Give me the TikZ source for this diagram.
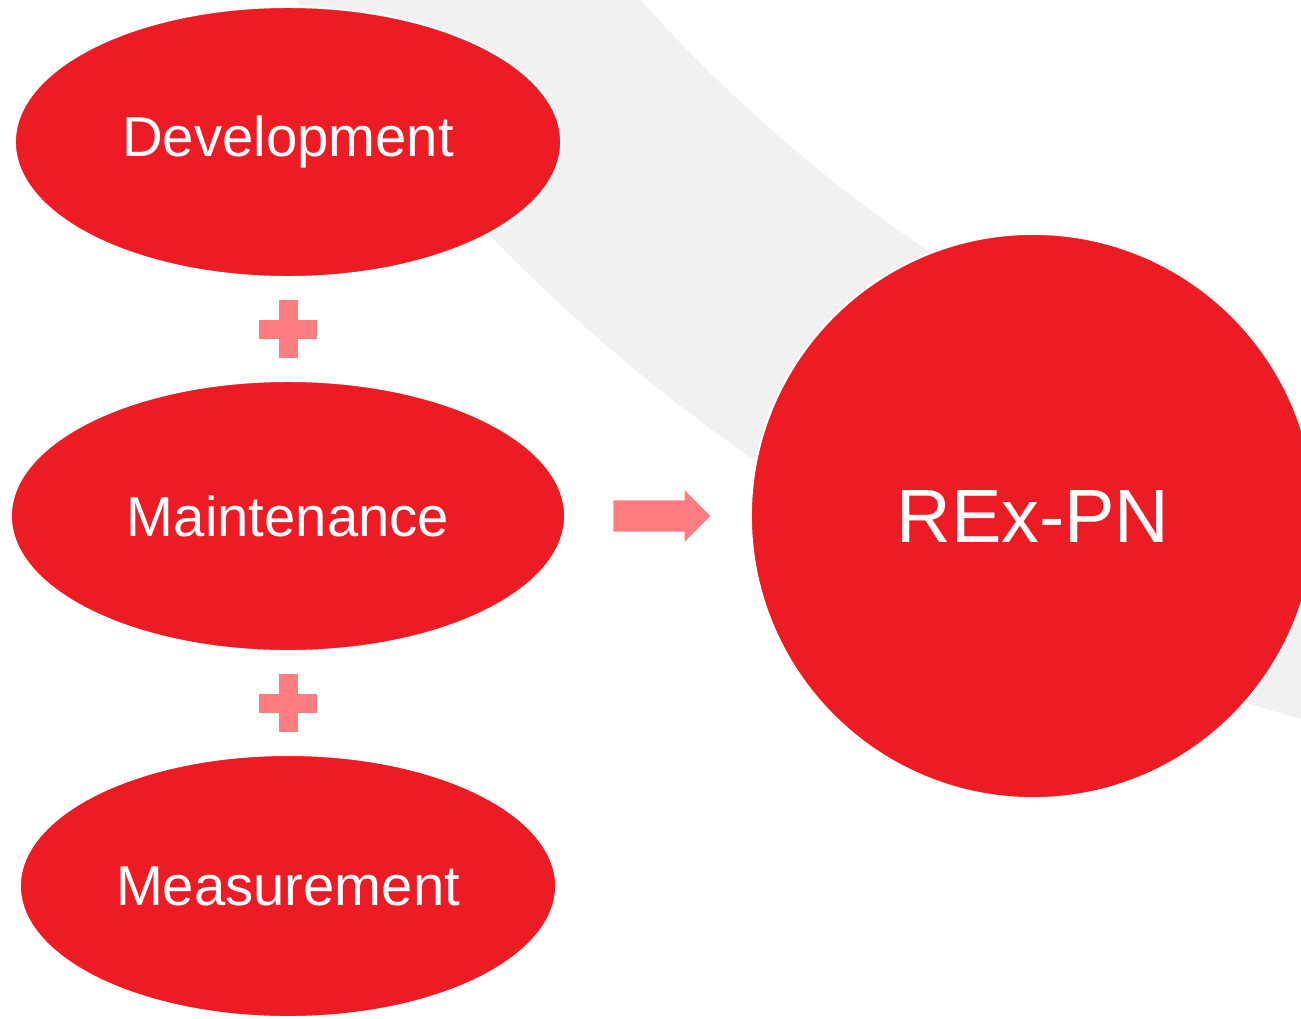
\documentclass[tikz,border=0pt]{standalone}
\usepackage{fontspec}
\setmainfont{Liberation Sans}
\usetikzlibrary{shapes.geometric,shapes.arrows,calc}
\definecolor{rexred}{RGB}{237,28,36}
\definecolor{rexpink}{RGB}{255,124,128}
\definecolor{bandgray}{RGB}{241,241,241}
\tikzset{
  stage/.style={ellipse,fill=rexred,draw=white,line width=0.6pt,text=white,inner sep=0pt,font=\fontsize{16}{19}\selectfont},
  goal/.style={circle,fill=rexred,draw=white,line width=0.6pt,text=white,inner sep=0pt,minimum size=5.64cm,font=\fontsize{21.5}{26}\selectfont},
  leadsto/.style={single arrow,fill=rexpink,inner sep=0pt,text height=0.15cm,text depth=0.15cm,single arrow head extend=0.1cm,minimum height=0.97cm},
  plusbar/.style={fill=rexpink}
}
\begin{document}
\begin{tikzpicture}[x=0.01cm,y=-0.01cm]
\useasboundingbox (0,0) rectangle (1301,1018);
\clip (0,0) rectangle (1301,1018);

% grey band behind everything
\fill[bandgray,even odd rule] (1796,-1036) circle[radius=1823] (1796,-1036) circle[radius=1552];

% the three stages
\node[stage,minimum width=5.46cm,minimum height=2.70cm] (dev) at (288,142) {Development};
\node[stage,minimum width=5.54cm,minimum height=2.70cm] (maint) at (288,516) {Maintenance};
\node[stage,minimum width=5.36cm,minimum height=2.62cm] (meas) at (288,886) {Measurement};

% result
\node[goal] (rex) at (1033,516) {REx-PN};

% plus signs between the stages
\foreach \a/\b in {dev/maint,maint/meas}{
  \coordinate (plus-\a) at ($(\a.south)!0.5!(\b.north)$);
  \fill[plusbar] (plus-\a) ++(-29,-9.5) rectangle ++(58,19);
  \fill[plusbar] (plus-\a) ++(-9.5,-29) rectangle ++(19,58);
}

% block arrow towards the result
\node[leadsto] (arr) at ($(maint.east)!0.5!(rex.west)+(-4,0)$) {};

\end{tikzpicture}
\end{document}
